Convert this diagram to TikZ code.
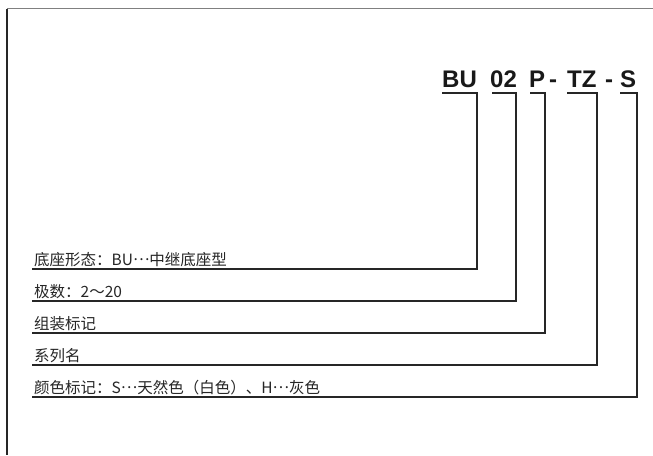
\documentclass[tikz,border=0pt]{standalone}
\usepackage{fontspec}
\setmainfont{Liberation Sans}
\newfontfamily\cjk{Noto Sans CJK SC}
\newcommand{\mdots}{\raisebox{0.32em}{…}}
\begin{document}
\begin{tikzpicture}[x=1pt,y=-1pt,
  tok/.style={anchor=base west,inner sep=0pt,font=\fontsize{24}{24}\selectfont\bfseries,text=black!90},
  lab/.style={anchor=base west,inner sep=0pt,font=\cjk\fontsize{15.5}{15.5}\selectfont,text=black!85},
  conn/.style={line width=1.1pt,draw=black!85}]
\useasboundingbox (0,0) rectangle (653,455);
\fill[white] (0,0) rectangle (653,455);
% frame
\draw[line width=1.2pt,black!50] (7,8.5) -- (653,8.5);
\draw[line width=1.2pt,black!85] (7,8.5) -- (7,455);
% title tokens
\node[tok] (bu) at (442,87) {BU};
\node[tok] (n02) at (490,87) {02};
\node[tok] (p) at (529,87) {P};
\node[tok] (d1) at (549,87) {-};
\node[tok] (tz) at (567,87) {TZ};
\node[tok] (d2) at (605,87) {-};
\node[tok] (s) at (620,87) {S};
% labels
\node[lab] (l1) at (34,265) {底座形态：BU\mdots 中继底座型};
\node[lab] (l2) at (34,297) {极数：2～20};
\node[lab] (l3) at (34,329) {组装标记};
\node[lab] (l4) at (34,361) {系列名};
\node[lab] (l5) at (34,393) {颜色标记：S\mdots 天然色（白色）、H\mdots 灰色};
% corner coordinates
\coordinate (a1) at (442,93); \coordinate (c1) at (477,93); \coordinate (e1) at (32,269);
\coordinate (a2) at (492,93); \coordinate (c2) at (516,93); \coordinate (e2) at (32,301);
\coordinate (a3) at (530,93); \coordinate (c3) at (545,93); \coordinate (e3) at (32,333);
\coordinate (a4) at (567,93); \coordinate (c4) at (597,93); \coordinate (e4) at (32,365);
\coordinate (a5) at (620,93); \coordinate (c5) at (637,93); \coordinate (e5) at (32,397);
\draw[conn] (a1) -- (c1) |- (e1);
\draw[conn] (a2) -- (c2) |- (e2);
\draw[conn] (a3) -- (c3) |- (e3);
\draw[conn] (a4) -- (c4) |- (e4);
\draw[conn] (a5) -- (c5) |- (e5);
\end{tikzpicture}
\end{document}
